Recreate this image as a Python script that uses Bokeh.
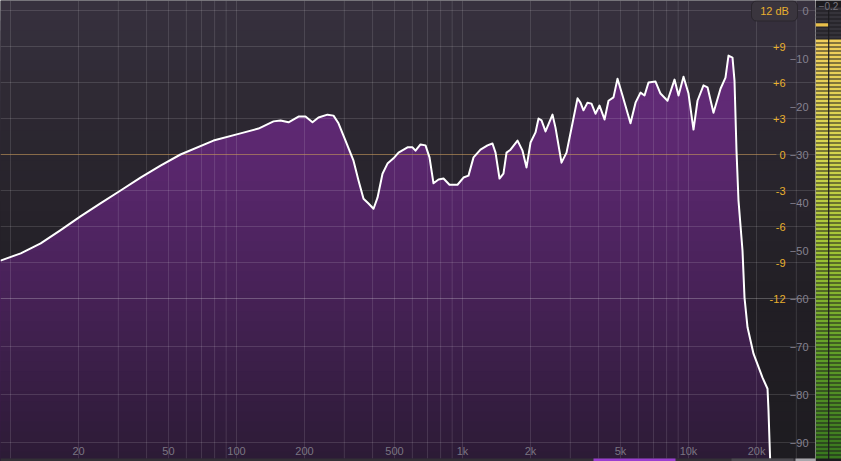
import numpy as np
from bokeh.plotting import figure
from bokeh.models import Range1d
from bokeh.layouts import row
from bokeh.embed import file_html
from bokeh.resources import INLINE
from bokeh.core.properties import value

# ---------------- data ----------------
freq_hz = [9.03, 11.1, 13.6, 16.6, 20.4, 25.0, 30.7, 37.6, 46.1, 56.5, 79.1, 104.2,
           125.1, 145.8, 156.6, 169.9, 188.1, 202.0, 216.9, 230.6, 252.7, 268.7,
           282.7, 303.6, 329.4, 346.6, 364.8, 383.8, 403.9, 420.7, 442.6, 465.7,
           495.1, 521.0, 571.0, 600.9, 619.5, 651.9, 686.0, 714.5, 744.2, 783.2,
           824.1, 876.0, 950.3, 1010, 1063, 1119, 1201, 1290, 1357, 1400, 1458,
           1518, 1566, 1631, 1752, 1843, 1920, 2000, 2104, 2170, 2237, 2330, 2502,
           2579, 2742, 2886, 3067, 3228, 3327, 3430, 3573, 3722, 3877, 4039, 4251,
           4426, 4657, 4852, 5105, 5538, 5829, 6133, 6389, 6653, 7145, 7516, 8075,
           8672, 9033, 9505, 10000, 10522, 10960, 11650, 12139, 12899, 13856,
           14578, 15031, 15656, 15978, 16308, 16643, 17337, 17694, 18246, 19391,
           21259, 22370, 22593, 22823, 23065]
level_db = [-52.1, -50.6, -48.5, -45.8, -42.9, -40.2, -37.5, -34.8, -32.3, -30.0,
            -27.1, -25.6, -24.6, -23.1, -22.9, -23.3, -22.1, -22.1, -23.3, -22.3,
            -21.7, -21.9, -23.5, -27.1, -31.3, -35.4, -39.2, -40.2, -41.3, -39.0,
            -34.0, -31.9, -30.8, -29.6, -28.5, -28.5, -29.2, -27.9, -28.1, -30.6,
            -36.0, -35.2, -35.0, -36.3, -36.3, -34.8, -34.4, -30.6, -29.0, -28.1,
            -27.7, -29.6, -35.0, -34.0, -29.6, -29.0, -27.1, -29.2, -32.7, -27.5,
            -25.4, -22.5, -22.9, -25.2, -21.7, -24.4, -31.7, -29.6, -23.5, -18.3,
            -19.2, -20.8, -19.2, -19.4, -21.5, -19.8, -22.7, -18.8, -18.1, -14.2,
            -17.7, -23.5, -19.2, -17.1, -17.7, -15.0, -14.8, -17.3, -18.8, -14.4,
            -17.7, -13.8, -17.3, -24.8, -18.8, -15.6, -16.0, -21.3, -16.3, -14.0,
            -9.4, -9.8, -14.6, -29.2, -39.6, -50.0, -59.8, -66.0, -71.5, -76.5,
            -78.8, -83.3, -89.6, -95.8]

eq_ticks = [9, 6, 3, 0, -3, -6, -9, -12]
eq_tick_labels = ["+9", "+6", "+3", "0", "-3", "-6", "-9", "-12"]
spec_ticks = [0, -10, -20, -30, -40, -50, -60, -70, -80, -90]
spec_tick_labels = ["0", "\u221210", "\u221220", "\u221230", "\u221240", "\u221250",
                    "\u221260", "\u221270", "\u221280", "\u221290"]
freq_ticks = [20, 50, 100, 200, 500, 1000, 2000, 5000, 10000, 20000]
freq_tick_labels = ["20", "50", "100", "200", "500", "1k", "2k", "5k", "10k", "20k"]
grid_freqs = [10, 20, 30, 40, 50, 60, 70, 80, 90,
              100, 200, 300, 400, 500, 600, 700, 800, 900,
              1000, 2000, 3000, 4000, 5000, 6000, 7000, 8000, 9000,
              10000, 20000, 30000]
eq_range_label = "12 dB"
eq_zero_on_spec = -30.0      # EQ 0 dB sits at spectrum -30 dB
eq_scale = 2.5               # 1 EQ dB = 2.5 spectrum dB
meter_level_db = -5.8
meter_peak_db = -3.0
meter_readout = "\u22120.2"

# ---------------- layout helpers (reference pixel -> data) ----------------
def fx(px):
    return 10 ** (1 + (px - 10) / 226.0)

def dy(py):
    return (10 - py) / 4.8

FONT = value("Liberation Sans")
X0, X1 = fx(0), fx(815)
Y0, Y1 = dy(461), dy(0)

def lerp_color(stops, t):
    ys = [s[0] for s in stops]
    cs = np.array([s[1] for s in stops], dtype=float)
    r = np.interp(t, ys, cs[:, 0]); g = np.interp(t, ys, cs[:, 1]); b = np.interp(t, ys, cs[:, 2])
    return "#%02x%02x%02x" % (int(r), int(g), int(b))

p = figure(width=815, height=461, x_axis_type="log",
           x_range=Range1d(X0, X1), y_range=Range1d(Y0, Y1),
           output_backend="svg", toolbar_location=None,
           x_axis_location=None, y_axis_location=None,
           min_border=0, outline_line_color=None,
           background_fill_color="#1f1c22", border_fill_color="#1f1c22")
p.xgrid.visible = False
p.ygrid.visible = False

# background gradient
bg_stops = [(0, (56, 50, 63)), (150, (42, 38, 47)), (300, (34, 31, 37)), (461, (30, 28, 33))]
n_bands = 46
edges_px = np.linspace(0, 461, n_bands + 1)
tops = [dy(e) for e in edges_px[:-1]]
cols = [lerp_color(bg_stops, (edges_px[i] + edges_px[i + 1]) / 2) for i in range(n_bands)]
p.quad(left=X0, right=X1, top=tops, bottom=Y0, fill_color=cols, line_color=None)

# spectrum fill gradient
fill_stops = [(40, (104, 45, 126)), (150, (92, 40, 112)), (300, (70, 34, 86)), (461, (44, 27, 54))]
lv = np.array(level_db)
for i in range(n_bands):
    top = dy(edges_px[i])
    c = lerp_color(fill_stops, (edges_px[i] + edges_px[i + 1]) / 2)
    p.varea(x=freq_hz, y1=Y0, y2=np.minimum(lv, top), fill_color=c, fill_alpha=1.0)

# grid
p.segment(x0=grid_freqs, x1=grid_freqs, y0=dy(458), y1=Y1,
          line_color="white", line_alpha=0.12, line_width=1)
h_grid = [eq_zero_on_spec + eq_scale * g for g in eq_ticks if g != 0] + \
         [s for s in spec_ticks if s <= -60 or s == 0]
p.segment(x0=X0, x1=X1, y0=h_grid, y1=h_grid,
          line_color="white", line_alpha=0.13, line_width=1)
p.segment(x0=[fx(776)], x1=[X1], y0=[eq_zero_on_spec], y1=[eq_zero_on_spec],
          line_color="white", line_alpha=0.12, line_width=1)
p.segment(x0=[X0], x1=[fx(776)], y0=[eq_zero_on_spec], y1=[eq_zero_on_spec],
          line_color="#c4965a", line_alpha=0.62, line_width=1)

# spectrum line
p.line(freq_hz, level_db, line_color="white", line_width=2, line_join="round")

# labels
p.text(x=[fx(785)] * len(eq_ticks), y=[eq_zero_on_spec + eq_scale * g for g in eq_ticks],
       text=eq_tick_labels, text_align="right", text_baseline="middle",
       text_color="#e8b02e", text_font_size="11px", text_font=FONT)
p.text(x=[fx(808)] * len(spec_ticks), y=spec_ticks, text=spec_tick_labels,
       text_align="right", text_baseline="middle",
       text_color="#858190", text_font_size="11px", text_font=FONT)
p.text(x=freq_ticks, y=[dy(450)] * len(freq_ticks), text=freq_tick_labels,
       text_align="center", text_baseline="middle",
       text_color="#7a7582", text_font_size="11px", text_font=FONT)

# "12 dB" box
p.quad(left=[fx(751)], right=[fx(797)], top=[dy(0.5)], bottom=[dy(20.5)],
       fill_color="#3a353e", line_color="#2a262d", line_width=1, border_radius=5)
p.text(x=[fx(774)], y=[dy(10.5)], text=[eq_range_label], text_align="center",
       text_baseline="middle", text_color="#e8b02e", text_font_size="11px", text_font=FONT)

# bottom scroll strip
p.quad(left=[X0], right=[X1], top=[dy(458)], bottom=[Y0], fill_color="#333036", line_color=None)
p.quad(left=[fx(593), fx(731), fx(795)], right=[fx(675), fx(793), X1],
       top=[dy(458)] * 3, bottom=[Y0] * 3,
       fill_color=["#9a3ed0", "#4a484e", "#a8a6ac"], line_color=None)

# ---------------- level meter ----------------
m = figure(width=26, height=461, x_range=Range1d(0, 26), y_range=Range1d(Y0, Y1),
           output_backend="svg", toolbar_location=None,
           x_axis_location=None, y_axis_location=None,
           min_border=0, outline_line_color=None,
           background_fill_color="#1c1b1f", border_fill_color="#1c1b1f")
m.xgrid.visible = False
m.ygrid.visible = False

pitch = 4 / 4.8
seg_b = np.arange(dy(458), dy(8), pitch)
seg_t = seg_b + pitch * 0.72
meter_stops = [(40, (240, 206, 92)), (150, (214, 214, 78)), (250, (160, 196, 52)),
               (350, (98, 160, 40)), (461, (55, 118, 30))]
seg_cols = []
for b, t in zip(seg_b, seg_t):
    if t <= meter_level_db + 0.01:
        py = 10 - 4.8 * (b + t) / 2
        seg_cols.append(lerp_color(meter_stops, py))
    else:
        seg_cols.append("#35333a")
for lft, rgt in [(0, 12.6), (13.8, 25.6)]:
    m.quad(left=lft, right=rgt, top=seg_t, bottom=seg_b, fill_color=seg_cols, line_color=None)
m.quad(left=[0], right=[12.6], top=[meter_peak_db + 0.35], bottom=[meter_peak_db - 0.35],
       fill_color="#e9c04a", line_color=None)
m.text(x=[13], y=[dy(5)], text=[meter_readout], text_align="center", text_baseline="middle",
       text_color="#77747d", text_font_size="10px", text_font=FONT)

layout = row(p, m, spacing=0)
open("out.html", "w").write(file_html(layout, INLINE))
